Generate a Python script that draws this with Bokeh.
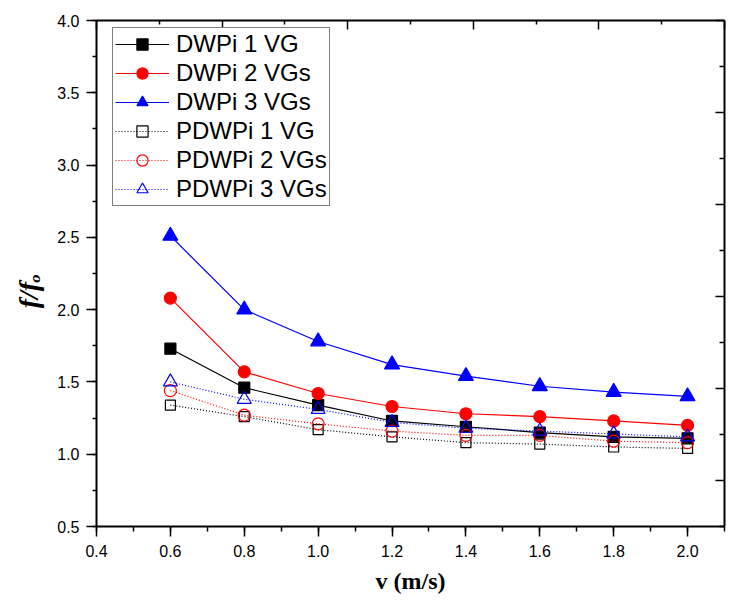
from bokeh.plotting import figure
from bokeh.models import (LinearAxis, FixedTicker, SingleIntervalTicker,
                          PrintfTickFormatter, CustomLabelingPolicy)
from bokeh.embed import file_html
from bokeh.resources import INLINE

# ---------------- data ----------------
v = [0.6, 0.8, 1.0, 1.2, 1.4, 1.6, 1.8, 2.0]
dwpi_1 = [1.73, 1.46, 1.34, 1.23, 1.19, 1.15, 1.12, 1.11]
dwpi_2 = [2.08, 1.57, 1.42, 1.33, 1.28, 1.26, 1.23, 1.20]
dwpi_3 = [2.51, 2.00, 1.78, 1.62, 1.54, 1.47, 1.43, 1.40]
pdwpi_1 = [1.34, 1.26, 1.17, 1.12, 1.08, 1.07, 1.05, 1.04]
pdwpi_2 = [1.44, 1.27, 1.21, 1.16, 1.13, 1.13, 1.09, 1.08]
pdwpi_3 = [1.50, 1.38, 1.31, 1.22, 1.18, 1.16, 1.14, 1.12]
labels = ["DWPi 1 VG", "DWPi 2 VGs", "DWPi 3 VGs",
          "PDWPi 1 VG", "PDWPi 2 VGs", "PDWPi 3 VGs"]
x_title = "v (m/s)"
y_title = "f/f\u2092"

# ---------------- layout ----------------
X0, X1 = 0.4, 2.1
Y0, Y1 = 0.5, 4.0
FW, FH = 628, 506

p = figure(frame_width=FW, frame_height=FH, x_range=(X0, X1), y_range=(Y0, Y1),
           output_backend="svg", toolbar_location=None,
           min_border_left=96, min_border_right=4, min_border_top=17, min_border_bottom=71)
p.grid.visible = False
p.outline_line_color = None
p.background_fill_color = "white"
p.border_fill_color = "white"

TICK_FONT = "Liberation Sans"
no_labels = CustomLabelingPolicy(code="return []")

def style_axis(ax):
    ax.axis_line_width = 2
    ax.axis_line_color = "black"
    ax.major_tick_line_width = 1.5
    ax.minor_tick_line_width = 1.5
    ax.major_tick_line_color = "black"
    ax.minor_tick_line_color = "black"
    ax.major_label_text_font = TICK_FONT
    ax.major_label_text_font_size = "16px"
    ax.major_label_text_color = "black"

xa = p.xaxis[0]
xa.ticker = SingleIntervalTicker(interval=0.2, num_minor_ticks=2)
xa.formatter = PrintfTickFormatter(format="%.1f")
style_axis(xa)
xa.major_tick_out = 10
xa.major_tick_in = 0
xa.minor_tick_out = 5
xa.minor_tick_in = 0
xa.major_label_standoff = 8
xa.axis_label = x_title
xa.axis_label_text_font = "Liberation Serif"
xa.axis_label_text_font_style = "bold"
xa.axis_label_text_font_size = "24px"
xa.axis_label_text_color = "black"
xa.axis_label_standoff = 8

ya = p.yaxis[0]
ya.ticker = SingleIntervalTicker(interval=0.5, num_minor_ticks=2)
ya.formatter = PrintfTickFormatter(format="%.1f")
style_axis(ya)
ya.major_tick_out = 10
ya.major_tick_in = 0
ya.minor_tick_out = 4
ya.minor_tick_in = 0
ya.major_label_standoff = 7
# non-breaking spaces shift the visible title slightly below the frame centre
ya.axis_label = y_title + "\u00a0" * 5
ya.axis_label_text_font = "Liberation Serif"
ya.axis_label_text_font_style = "bold italic"
ya.axis_label_text_font_size = "28px"
ya.axis_label_text_color = "black"
ya.axis_label_standoff = 10

# top axis: 5 major divisions, inward ticks, no labels
top_major = [X0 + (X1 - X0) / 5 * k for k in range(6)]
top_minor = [X0 + (X1 - X0) / 10 * (2 * k + 1) for k in range(5)]
top = LinearAxis(ticker=FixedTicker(ticks=top_major, minor_ticks=top_minor),
                 major_label_policy=no_labels)
style_axis(top)
top.major_tick_in = 9
top.major_tick_out = 0
top.minor_tick_in = 4
top.minor_tick_out = 0
p.add_layout(top, "above")

# right axis: 11 divisions, inward ticks, no labels
right_major = [Y1 - (Y1 - Y0) / 11 * 2 * k for k in range(6)]
right_minor = [Y1 - (Y1 - Y0) / 11 * (2 * k + 1) for k in range(6)]
right = LinearAxis(ticker=FixedTicker(ticks=right_major, minor_ticks=right_minor),
                   major_label_policy=no_labels)
style_axis(right)
right.major_tick_in = 9
right.major_tick_out = 0
right.minor_tick_in = 5
right.minor_tick_out = 0
p.add_layout(right, "right")

# ---------------- series ----------------
series = [
    (labels[0], dwpi_1, "black", "square", True, "solid", 11),
    (labels[1], dwpi_2, "red", "circle", True, "solid", 12),
    (labels[2], dwpi_3, "blue", "triangle", True, "solid", 15),
    (labels[3], pdwpi_1, "black", "square", False, "1 2", 10),
    (labels[4], pdwpi_2, "red", "circle", False, "1 2", 12),
    (labels[5], pdwpi_3, "blue", "triangle", False, "1 2", 14),
]

for lab, vals, col, mk, filled, dash, sz in series:
    p.line(v, vals, line_color=col, line_width=1.2, line_dash=dash, legend_label=lab)
    p.scatter(v, vals, marker=mk, size=sz, line_color=col, line_width=1.2,
              fill_color=col if filled else None, legend_label=lab)

lg = p.legend[0]
lg.location = (16, 320)
lg.border_line_color = "black"
lg.border_line_width = 1
lg.background_fill_color = "white"
lg.background_fill_alpha = 1
lg.label_text_font = TICK_FONT
lg.label_text_font_size = "24px"
lg.label_text_color = "black"
lg.glyph_width = 54
lg.glyph_height = 28
lg.label_height = 28
lg.label_standoff = 7
lg.padding = 2
lg.spacing = 1
lg.margin = 0

open("out.html", "w").write(file_html(p, INLINE))
